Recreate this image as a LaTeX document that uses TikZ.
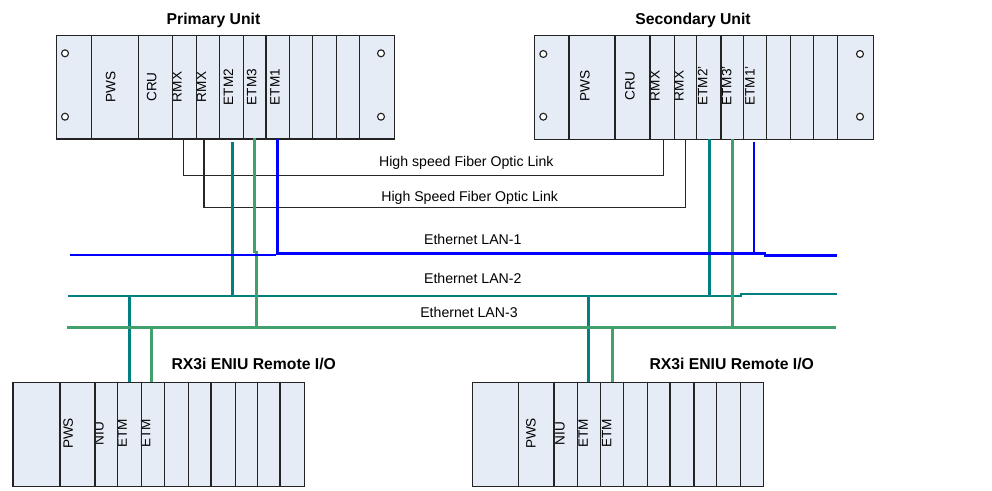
\documentclass[tikz,border=0pt]{standalone}
\usepackage{fontspec}
\setmainfont{Liberation Sans}
\definecolor{rackfill}{RGB}{230,236,246}
\definecolor{rackline}{RGB}{35,35,35}
\definecolor{lanblue}{RGB}{0,0,255}
\definecolor{lanteal}{RGB}{0,128,128}
\definecolor{langreen}{RGB}{66,160,108}
\begin{document}
\begin{tikzpicture}[x=0.75pt,y=-0.75pt,
  rackbox/.style={draw=rackline, line width=1.1pt, fill=rackfill, inner sep=0pt, anchor=north west},
  slotline/.style={draw=rackline, line width=0.8pt},
  hole/.style={draw=rackline, line width=0.85pt, fill=white},
  vlabel/.style={rotate=90, inner sep=0pt, font=\fontsize{10.2}{11}\selectfont},
  unittitle/.style={inner sep=0pt, anchor=base, font=\fontsize{11.8}{12}\selectfont\bfseries},
  linklabel/.style={inner sep=0pt, anchor=base, font=\fontsize{10.6}{11}\selectfont},
  fiber/.style={draw=black!85, line width=0.95pt},
  lanA/.style={draw=lanblue, line width=1.9pt},
  lanB/.style={draw=lanteal, line width=1.9pt},
  lanC/.style={draw=langreen, line width=1.9pt}]
\useasboundingbox (0,0) rectangle (992,491);

% ---------------- racks
\node[rackbox, minimum width=0.75*338.3pt, minimum height=0.75*103.6pt] (pri) at (55.7,34.7) {};
\node[rackbox, minimum width=0.75*338.7pt, minimum height=0.75*104.3pt] (sec) at (534,34.7) {};
\node[rackbox, minimum width=0.75*291.7pt, minimum height=0.75*104.3pt] (remA) at (12.3,381.7) {};
\node[rackbox, minimum width=0.75*291pt, minimum height=0.75*104.3pt] (remB) at (471.7,381.7) {};

% titles
\node[unittitle] (pri-title) at (213.5,25) {Primary Unit};
\node[unittitle] (sec-title) at (693,25) {Secondary Unit};
\node[unittitle] (remA-title) at (253.7,369.5) {RX3i ENIU Remote I/O};
\node[unittitle] (remB-title) at (731.7,369.5) {RX3i ENIU Remote I/O};

% slot labels
\node[vlabel] (pri-pws) at (110.7,87) {PWS};
\node[vlabel] (pri-cru) at (151.7,87) {CRU};
\node[vlabel] (pri-rmxA) at (177,87) {RMX};
\node[vlabel] (pri-rmxB) at (201.5,87) {RMX};
\node[vlabel] (pri-etmB) at (228.3,87) {ETM2};
\node[vlabel] (pri-etmC) at (251.7,87) {ETM3};
\node[vlabel] (pri-etmA) at (275,87) {ETM1};

\node[vlabel] (sec-pws) at (585,86) {PWS};
\node[vlabel] (sec-cru) at (630,86) {CRU};
\node[vlabel] (sec-rmxA) at (655,86) {RMX};
\node[vlabel] (sec-rmxB) at (679,86) {RMX};
\node[vlabel] (sec-etmB) at (702.7,86) {ETM2'};
\node[vlabel] (sec-etmC) at (726.7,86) {ETM3'};
\node[vlabel] (sec-etmA) at (750,86) {ETM1'};

\node[vlabel] (remA-pws) at (68.3,433.5) {PWS};
\node[vlabel] (remA-niu) at (99,433.5) {NIU};
\node[vlabel] (remA-etmA) at (122.3,433.5) {ETM};
\node[vlabel] (remA-etmB) at (145.7,433.5) {ETM};

\node[vlabel] (remB-pws) at (531,433.5) {PWS};
\node[vlabel] (remB-niu) at (560,433.5) {NIU};
\node[vlabel] (remB-etmA) at (583.3,433.5) {ETM};
\node[vlabel] (remB-etmB) at (606.7,433.5) {ETM};

% slot dividers
\foreach \x in {91.7,138.3,172.3,196.7,219.3,243.3,266,289.3,312.7,336.7,359.3}
  \draw[slotline] (\x,34.7) -- (\x,138.3);
\foreach \x in {569,615,650,674.3,696.7,721,743.3,766.7,790.7,813.3,837.3}
  \draw[slotline] (\x,34.7) -- (\x,139);
\foreach \x in {60,95,117.7,141.7,164.3,188.3,211,235.3,257.7,280}
  \draw[slotline] (\x,381.7) -- (\x,486);
\foreach \x in {518.7,554,577.7,600.7,623.3,647.3,670,694,716.7,740.7}
  \draw[slotline] (\x,381.7) -- (\x,486);

% mounting holes
\foreach \x/\y in {65/53.3,65/116.7,381/53.3,381/116.7,543.3/54,543.3/116.7,860/54,860/116.7}
  \draw[hole] (\x,\y) circle[radius=2.6pt];

% ---------------- connection points
\coordinate (p-rmxA) at (183.3,138.3);
\coordinate (p-rmxB) at (204,138.3);
\coordinate (p-etmB) at (232.3,142);
\coordinate (p-etmC) at (254.7,138.3);
\coordinate (p-etmA) at (277.7,139.5);
\coordinate (s-rmxA) at (663.3,139);
\coordinate (s-rmxB) at (685.7,139);
\coordinate (s-etmB) at (709.3,139);
\coordinate (s-etmC) at (732.7,139);
\coordinate (s-etmA) at (754,141.7);
\coordinate (rA-etmA) at (129.3,381.7);
\coordinate (rA-etmB) at (151.7,381.7);
\coordinate (rB-etmA) at (588.3,381.7);
\coordinate (rB-etmB) at (612.3,381.7);

\coordinate (fibA) at (0,175.5);
\coordinate (fibB) at (0,207.7);
\coordinate (lanA-w) at (70,255);
\coordinate (lanA-e) at (836.7,255.5);
\coordinate (lanB-w) at (68.3,296);
\coordinate (lanB-e) at (836.7,294);
\coordinate (lanC-w) at (66.7,327.7);
\coordinate (lanC-e) at (836,327.7);

% ---------------- fiber links
\draw[fiber] (p-rmxA) -- (p-rmxA |- fibA) -- (s-rmxA |- fibA) -- (s-rmxA);
\draw[fiber] (p-rmxB) -- (p-rmxB |- fibB) -- (s-rmxB |- fibB) -- (s-rmxB);
\node[linklabel] (fibA-label) at (466.3,166.5) {High speed Fiber Optic Link};
\node[linklabel] (fibB-label) at (469.7,201.5) {High Speed Fiber Optic Link};

% ---------------- LAN-2 (teal)
\draw[lanB] (lanB-w) -- (741,296) -- (741,294) -- (lanB-e);
\draw[lanB] (p-etmB) -- (p-etmB |- lanB-w);
\draw[lanB] (s-etmB) -- (s-etmB |- lanB-w);
\draw[lanB] (rA-etmA |- lanB-w) -- (rA-etmA);
\draw[lanB] (rB-etmA |- lanB-w) -- (rB-etmA);

% ---------------- LAN-3 (green)
\draw[lanC] (lanC-w) -- (lanC-e);
\draw[lanC] (p-etmC) -- (254.7,252) -- (256.7,252) -- (256.7,327.7);
\draw[lanC] (s-etmC) -- (s-etmC |- lanC-w);
\draw[lanC] (rA-etmB |- lanC-w) -- (rA-etmB);
\draw[lanC] (rB-etmB |- lanC-w) -- (rB-etmB);

% ---------------- LAN-1 (blue)
\draw[lanA] (lanA-w) -- (276,255);
\draw[lanA] (p-etmA) -- (277.7,253.3) -- (765,253.3) -- (765,255.5) -- (lanA-e);
\draw[lanA] (s-etmA) -- (754,253.3);

% LAN labels
\node[linklabel] (lanA-label) at (472.8,245) {Ethernet LAN-1};
\node[linklabel] (lanB-label) at (472.8,283.3) {Ethernet LAN-2};
\node[linklabel] (lanC-label) at (469,317.5) {Ethernet LAN-3};
\end{tikzpicture}
\end{document}
